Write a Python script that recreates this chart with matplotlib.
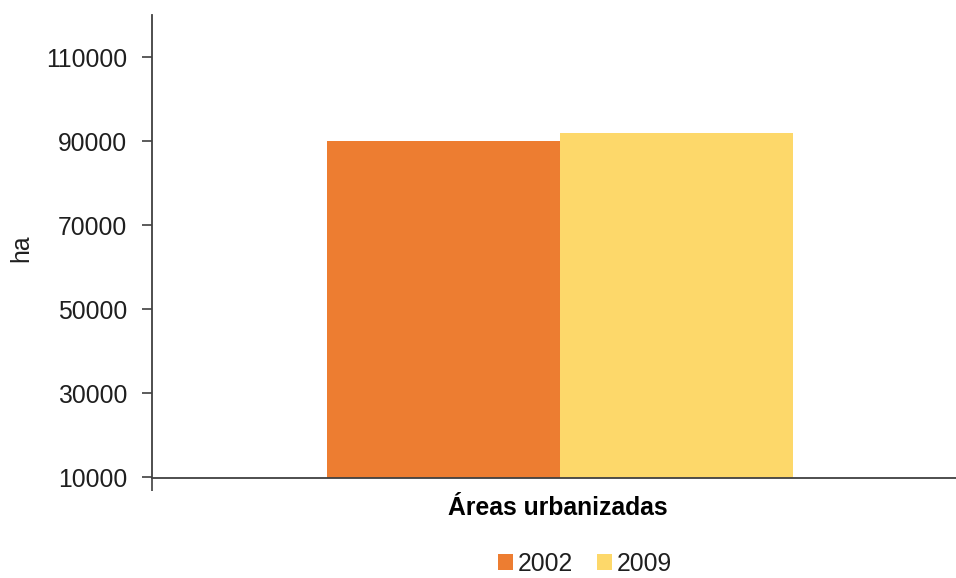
import matplotlib
matplotlib.use("Agg")
import matplotlib.pyplot as plt
from matplotlib.patches import Patch

plt.rcParams['font.family'] = ['Liberation Sans', 'DejaVu Sans']

categories = ["Áreas urbanizadas"]
years = ["2002", "2009"]
values_2002 = [90000]
values_2009 = [92000]
colors = ["#ED7D31", "#FDD86A"]
yticks = [10000, 30000, 50000, 70000, 90000, 110000]

W, H = 956, 578
fig = plt.figure(figsize=(W / 100, H / 100), dpi=100)
left, right, top, bottom = 152, 968, 15, 477.5
ax = fig.add_axes([left / W, 1 - bottom / H, (right - left) / W, (bottom - top) / H])

bw = 0.285
x = [0]
ax.bar([xi - bw / 2 for xi in x], values_2002, width=bw, color=colors[0], label=years[0], bottom=0)
ax.bar([xi + bw / 2 for xi in x], values_2009, width=bw, color=colors[1], label=years[1], bottom=0)

ax.set_xlim(-0.5, 0.5)
ax.set_ylim(10000, 120000)
ax.set_yticks(yticks)
ax.set_yticklabels([str(v) for v in yticks], fontsize=17.8, color="#1f1f1f")
ax.set_xticks([-0.5])
ax.set_xticklabels([""])
ax.tick_params(axis='y', length=7, width=1.2, color="#404040", pad=11)
ax.tick_params(axis='x', length=9, width=1.2, color="#404040")

for s in ["top", "right"]:
    ax.spines[s].set_visible(False)
for s in ["left", "bottom"]:
    ax.spines[s].set_color("#404040")
    ax.spines[s].set_linewidth(1.3)

# y-axis title placed in figure coordinates
fig.text(21 / W, 1 - 248 / H, "ha", rotation=90, fontsize=17.8, color="#1f1f1f",
         ha="center", va="center")

# category label under the group
fig.text(558 / W, 1 - 508 / H, categories[0], fontsize=17.8, fontweight="bold",
         color="#000000", ha="center", va="center")

handles = [Patch(facecolor=c, edgecolor="none") for c in colors]
fig.legend(handles, years, loc="center", bbox_to_anchor=(585 / W, 1 - 564 / H),
           ncol=2, frameon=False, fontsize=17.8, handlelength=0.6, handleheight=0.6,
           handletextpad=0.2, columnspacing=1.0, labelcolor="#1f1f1f",
           borderpad=0.1)

fig.savefig("out.png", dpi=100)
